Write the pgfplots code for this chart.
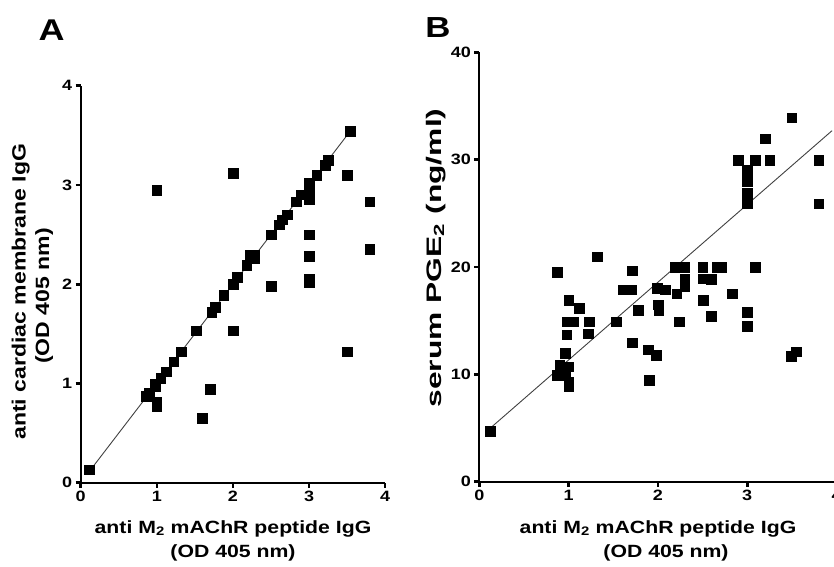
\documentclass[border=0pt]{standalone}
\usepackage{pgfplots}
\pgfplotsset{compat=1.18}
\usepackage{fontspec}
\setmainfont{Liberation Sans}[FakeStretch=1.2]

\newcommand\tlab{\fontsize{15}{16}\selectfont\bfseries}
\pgfplotsset{
  panel/.style={
    axis x line*=bottom,
    axis y line*=left,
    axis line style={-, line width=2.2pt, black},
    tick align=outside,
    major tick length=5pt,
    major tick style={line width=2.6pt, black},
    xmin=0, xmax=4, ymin=0,
    xtick={0,1,2,3,4},
    xticklabel={\tlab\pgfmathprintnumber{\tick}},
    yticklabel={\tlab\pgfmathprintnumber{\tick}},
    xticklabel style={font=\tlab},
    yticklabel style={font=\tlab},
    /pgf/number format/assume math mode=true,
    clip=false,
    anchor=south west,
  },
  pts/.style={only marks, mark=square*, mark size=4.8pt, black},
  fit/.style={black!75, line width=0.9pt},
}
\newcommand\lab{\fontsize{17.7}{20}\selectfont\bfseries}
\newcommand\ylab{\fontsize{19.2}{21}\selectfont\bfseries}

\begin{document}
\begin{tikzpicture}

% ---- panel A ----
\begin{axis}[panel, at={(80.7pt,83.3pt)}, x=76.1pt, y=99.25pt,
  ymax=4, ytick={0,1,2,3,4}]
\addplot[fit] coordinates {(0.12,0.12) (3.52,3.52)};
\addplot[pts] coordinates {
 (0.11,0.13) (0.86,0.87) (0.90,0.90) (0.98,0.97) (0.98,0.99)
 (1.00,0.81) (1.00,0.77) (1.00,2.95) (1.05,1.05) (1.12,1.12)
 (1.22,1.22) (1.32,1.32) (1.52,1.53) (1.60,0.65) (1.70,0.94)
 (1.72,1.72) (1.77,1.77) (1.88,1.89) (2.00,2.00) (2.00,3.12)
 (2.00,1.53) (2.06,2.07) (2.18,2.19) (2.22,2.29) (2.28,2.29)
 (2.28,2.26) (2.50,2.50) (2.50,1.98) (2.61,2.60) (2.65,2.65)
 (2.71,2.70) (2.83,2.83) (2.89,2.90) (2.95,2.90) (3.00,2.92)
 (3.00,2.85) (3.00,3.02) (3.00,2.50) (3.00,2.28) (3.00,2.05)
 (3.00,2.02) (3.10,3.10) (3.21,3.20) (3.25,3.25) (3.54,3.54)
 (3.50,3.10) (3.50,1.32) (3.80,2.83) (3.80,2.35)
};
\end{axis}

% ---- panel B ----
\begin{axis}[panel, at={(479.3pt,84.3pt)}, x=89.3pt, y=10.735pt,
  ymax=40, ytick={0,10,20,30,40}]
\addplot[fit] coordinates {(0.12,4.97) (3.95,32.7)};
\addplot[pts] coordinates {
 (0.12,4.72) (0.87,19.5) (0.87,9.94) (0.90,10.9) (0.96,9.94)
 (0.96,11.96) (0.98,13.7) (1.00,16.9) (0.98,14.9) (1.05,14.9)
 (1.00,10.7) (1.00,9.3) (1.00,8.85) (1.12,16.15) (1.23,14.9)
 (1.22,13.8) (1.32,20.96) (1.53,14.9) (1.61,17.9) (1.70,17.9)
 (1.71,19.66) (1.71,12.95) (1.78,16.0) (1.89,12.3) (1.90,9.47)
 (1.98,11.8) (1.99,18.0) (2.00,16.5) (2.01,16.0) (2.08,17.9)
 (2.19,19.97) (2.21,17.5) (2.24,14.9) (2.26,19.97) (2.30,19.97)
 (2.30,18.9) (2.30,18.2) (2.50,19.97) (2.50,18.9) (2.51,16.9)
 (2.60,18.85) (2.60,15.4) (2.66,19.97) (2.71,19.97) (2.83,17.5)
 (2.90,29.97) (3.00,29.0) (3.00,28.0) (3.00,26.9) (3.00,25.9)
 (3.00,15.8) (3.00,14.5) (3.09,29.97) (3.09,19.97) (3.20,31.96)
 (3.25,29.97) (3.50,33.9) (3.49,11.7) (3.55,12.1) (3.80,29.97)
 (3.80,25.9)
};
\end{axis}

% ---- panel letters and axis titles ----
\node[font=\fontsize{30}{31}\selectfont\bfseries] at (51.7pt,536pt) {A};
\node[font=\fontsize{29}{30}\selectfont\bfseries] at (438pt,538pt) {B};

\node[anchor=base, inner sep=0pt] at (233pt,33pt) {\lab anti M\textsubscript{2} mAChR peptide IgG};
\node[anchor=base, inner sep=0pt] at (233pt,9pt) {\lab (OD 405 nm)};
\node[anchor=base, inner sep=0pt] at (658pt,33pt) {\lab anti M\textsubscript{2} mAChR peptide IgG};
\node[anchor=base, inner sep=0pt] at (666pt,9pt) {\lab (OD 405 nm)};

\node[anchor=base, inner sep=0pt, rotate=90] at (25.5pt,274.3pt) {\ylab anti cardiac membrane IgG};
\node[anchor=base, inner sep=0pt, rotate=90] at (49pt,270pt) {\ylab (OD 405 nm)};
\node[anchor=base, inner sep=0pt, rotate=90] at (441pt,308pt)
  {\scalebox{1.26}[1]{\fontsize{21}{23}\selectfont\bfseries serum PGE\textsubscript{2} (ng/ml)}};

\pgfresetboundingbox
\useasboundingbox (0,0) rectangle (834pt,566pt);
\end{tikzpicture}
\end{document}
